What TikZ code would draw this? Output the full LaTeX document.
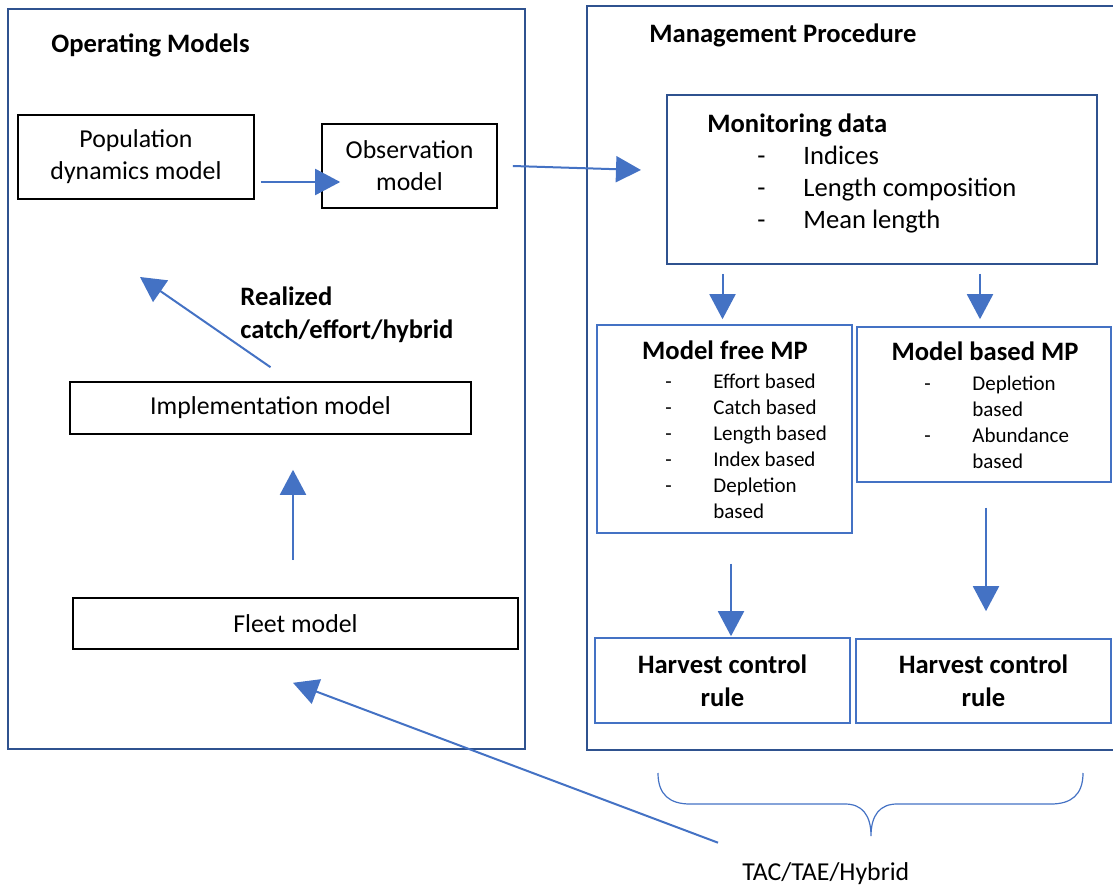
\documentclass[tikz,border=0pt]{standalone}
\usepackage{fontspec}
\setmainfont{Carlito}
\usetikzlibrary{positioning, arrows.meta, calc}
\definecolor{frameblue}{HTML}{2F528F}
\definecolor{boxblue}{HTML}{4472C4}
\newcommand{\normtext}{\fontsize{12.9}{16}\selectfont}
\newcommand{\headtext}{\fontsize{13.3}{16.5}\selectfont\bfseries}
\newcommand{\montext}{\fontsize{13.3}{16}\selectfont}
\newcommand{\smalltext}{\fontsize{10.5}{13}\selectfont}
\newcommand{\dashline}[3]{\hspace*{#1}\makebox[#2][l]{-}#3}

\begin{document}
\begin{tikzpicture}[x=0.5pt,y=-0.5pt,>={Triangle[length=12.5pt,width=13pt]},
	frame/.style={draw=frameblue,line width=1pt,inner sep=0},
	blackbox/.style={draw=black,line width=0.8pt,align=center,inner sep=0,font=\normtext},
	mpbox/.style={draw=boxblue,line width=0.8pt,inner sep=0},
	flow/.style={->,draw=boxblue,fill=boxblue,line width=1pt}]
	\useasboundingbox (0,0) rectangle (1113,887);

	% the two frames
	\node[frame,minimum width=258.5pt,minimum height=370pt] (om) at (266.5,379) {};
	\node[frame,minimum width=264pt,minimum height=372pt] (mp) at (851,378) {};
	\node[anchor=base west,font=\headtext,inner sep=0] (omtitle) at (51,53) {Operating Models};
	\node[anchor=base west,font=\headtext,inner sep=0] (mptitle) at (649,43) {Management Procedure};

	% operating models
	\node[blackbox,minimum width=118pt,minimum height=42pt] (pop) at (136,157) {Population\\dynamics model};
	\node[blackbox,minimum width=87.5pt,minimum height=42pt] (obs) at (409.5,166) {Observation\\model};
	\node[blackbox,minimum width=200.5pt,minimum height=26pt] (impl) at (270.5,408) {Implementation model};
	\node[blackbox,minimum width=222.5pt,minimum height=25.5pt] (fleet) at (295.5,623.5) {Fleet model};
	\node[anchor=north west,align=left,font=\headtext,inner sep=0] (realized) at (240,282)
		{\strut Realized\\catch/effort/hybrid};

	% management procedure
	\node[draw=frameblue,line width=1pt,minimum width=215pt,minimum height=84.5pt] (mon) at (882,179.5) {};
	\node[anchor=north west,align=left,font=\montext,inner sep=0] (montxt) at (707,110)
		{\strut\textbf{Monitoring data}\\
		\dashline{25pt}{23pt}{Indices}\\
		\dashline{25pt}{23pt}{Length composition}\\
		\dashline{25pt}{23pt}{Mean length}};

	\node[mpbox,minimum width=127.5pt,minimum height=104pt] (free) at (724.5,429) {};
	\node[anchor=base,font=\headtext,inner sep=0] (freetitle) at (725,360) {Model free MP};
	\node[anchor=north west,align=left,font=\smalltext,inner sep=0] (freelist) at (665,370)
		{\strut\dashline{0pt}{24pt}{Effort based}\\
		\dashline{0pt}{24pt}{Catch based}\\
		\dashline{0pt}{24pt}{Length based}\\
		\dashline{0pt}{24pt}{Index based}\\
		\dashline{0pt}{24pt}{Depletion}\\
		\hspace*{24pt}based};

	\node[mpbox,minimum width=127pt,minimum height=77.5pt] (based) at (984,404.5) {};
	\node[anchor=base,font=\headtext,inner sep=0] (basedtitle) at (985,361) {Model based MP};
	\node[anchor=north west,align=left,font=\smalltext,inner sep=0] (basedlist) at (924,372)
		{\strut\dashline{0pt}{24pt}{Depletion}\\
		\hspace*{24pt}based\\
		\dashline{0pt}{24pt}{Abundance}\\
		\hspace*{24pt}based};

	\node[mpbox,font=\headtext,align=center,minimum width=127.5pt,minimum height=42.5pt] (hcrfree) at (722.5,680.5) {Harvest control\\rule};
	\node[mpbox,font=\headtext,align=center,minimum width=127.5pt,minimum height=42pt] (hcrbased) at (983.5,681) {Harvest control\\rule};

	\node[anchor=base west,font=\normtext,inner sep=0] (tac) at (742,880) {TAC/TAE/Hybrid};

	% brace over both rules
	\draw[boxblue,line width=0.6pt] (658,773) .. controls (658,795) and (670,804) .. (690,804)
		-- (845,804) .. controls (862,804) and (871,815) .. (871,836)
		.. controls (871,815) and (880,804) .. (897,804)
		-- (1051,804) .. controls (1071,804) and (1083,795) .. (1083,773);

	% arrows
	\coordinate (omtarget) at (140,277);
	\draw[flow] ($(pop.east)+(6,25)$) -- ($(obs.west)+(19,16)$);
	\draw[flow] ($(obs.east)+(15,0)$) -- ($(mon.west)+(-25,-9.5)$);
	\draw[flow] ($(mon.south -| free.north)+(-2,9)$) -- ($(free.north)+(-2,-5)$);
	\draw[flow] ($(mon.south -| based.north)+(-4,9)$) -- ($(based.north)+(-4,-7)$);
	\draw[flow] ($(free.south)+(6.5,30)$) -- ($(hcrfree.north)+(8.5,-1)$);
	\draw[flow] ($(based.south)+(2,25)$) -- ($(hcrbased.north)+(2.5,-27)$);
	\draw[flow] ($(fleet.north)+(-2.5,-37)$) -- ($(impl.south)+(22.5,35)$);
	\draw[flow] ($(impl.north)+(0,-14)$) -- (omtarget);
	\draw[flow] ($(tac.north west)+(-24,-19)$) -- ($(fleet.south)+(-2.5,33)$);
\end{tikzpicture}
\end{document}
